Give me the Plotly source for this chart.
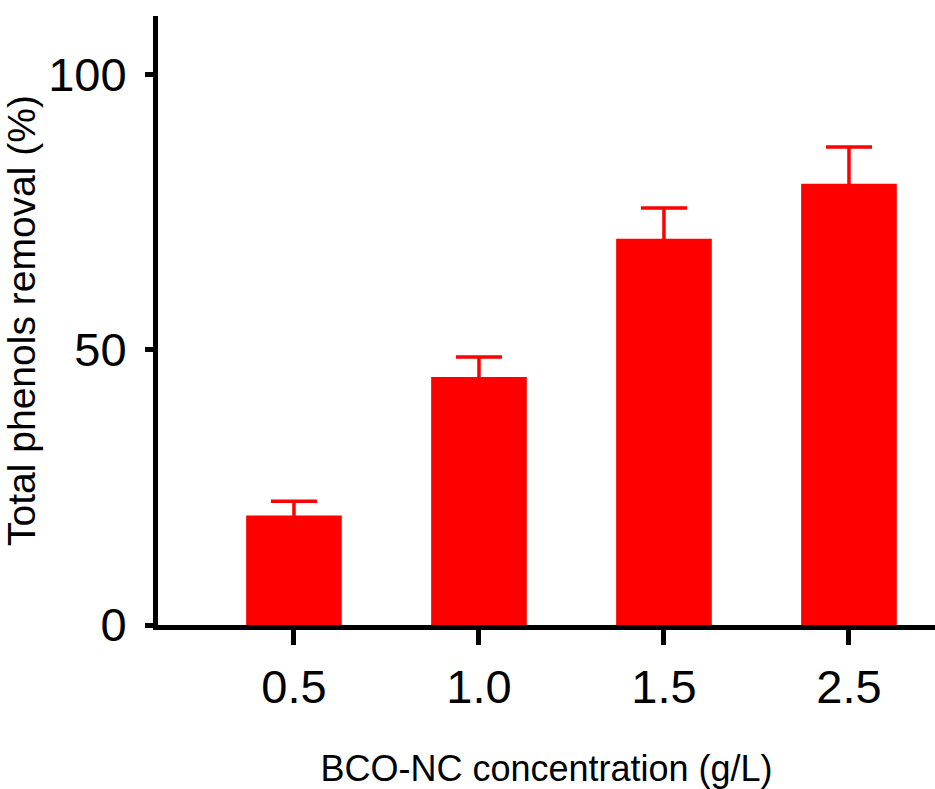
import plotly.graph_objects as go

categories = ["0.5", "1.0", "1.5", "2.5"]
removal = [19.9, 45.1, 70.2, 80.2]
err_up = [2.6, 3.6, 5.6, 6.7]
y_ticks = [0, 50, 100]

tick_font = dict(family="Liberation Sans, Arial", size=47, color="black")
xtitle_font = dict(family="Liberation Sans, Arial", size=36, color="black")
ytitle_font = dict(family="Liberation Sans, Arial", size=39, color="black")

fig = go.Figure(go.Bar(
    x=categories, y=removal, width=0.517,
    marker=dict(color="#ff0000", line=dict(width=0)),
    error_y=dict(type="data", array=err_up, arrayminus=[2] * len(err_up), symmetric=False,
                 color="#ff0000", thickness=3.5, width=23),
))

fig.update_layout(
    width=935, height=789, plot_bgcolor="white", paper_bgcolor="white",
    margin=dict(l=158, r=0, t=16, b=164, autoexpand=False), showlegend=False,
    xaxis=dict(type="category", range=[-0.735, 3.465], showline=True, linecolor="black", linewidth=5,
               ticks="outside", ticklen=15, tickwidth=5, tickcolor="black", tickfont=tick_font,
               ticklabelstandoff=2, showgrid=False, zeroline=False, automargin=False,
               title=dict(text="BCO-NC concentration (g/L)", font=xtitle_font, standoff=52)),
    yaxis=dict(range=[0, 110.7], tickvals=y_ticks, showline=True, linecolor="black", linewidth=5,
               ticks="outside", ticklen=8, tickwidth=5, tickcolor="black", tickfont=tick_font,
               ticklabelstandoff=9, showgrid=False, zeroline=False, automargin=False,
               title=dict(text="Total phenols removal (%)", font=ytitle_font, standoff=24)),
)

fig.write_html("out.html", config={"displayModeBar": False},
               post_script="document.body.style.margin='0';")
